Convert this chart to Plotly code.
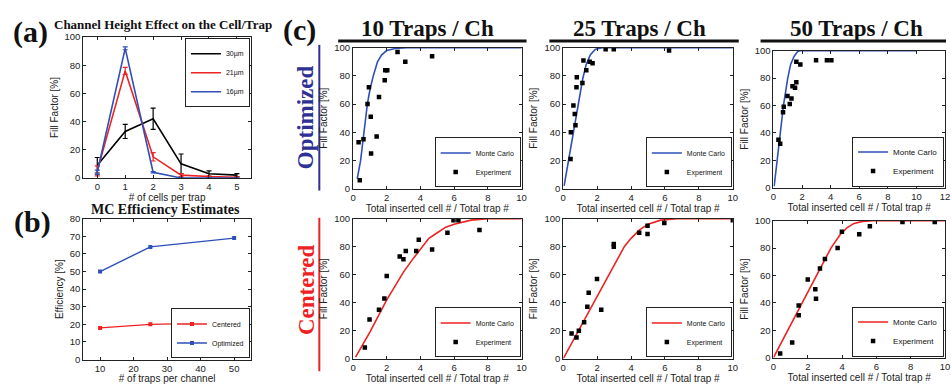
import plotly.graph_objects as go

W, H = 951, 384

# ---------------- data ----------------
# (a) Channel height effect
cells = [0, 1, 2, 3, 4, 5]
fill_30 = [9, 33, 42, 10, 3, 2]
err_30 = [5.5, 5, 7.5, 7, 2, 1]
fill_21 = [5, 76, 15, 2, 1, 0.5]
err_21 = [3.5, 2.5, 3, 1, 0.5, 0.3]
fill_16 = [4, 92, 4, 0, 0, 0]
err_16 = [1.5, 1, 0.5, 0, 0, 0]

# (b) MC efficiency estimates
traps = [10, 25, 50]
eff_centered = [18, 20, 21]
eff_optimized = [50, 64, 69]

# (c) Optimized - Monte Carlo curves
opt10_mc_x = [0.25, 0.45, 0.65, 0.85, 1.0, 1.2, 1.45, 1.7, 2.0, 2.5, 3.2, 10]
opt10_mc_y = [7, 20, 40, 60, 70, 80, 90, 95, 98, 99.5, 100, 100]
opt25_mc_x = [0.05, 0.3, 0.6, 0.9, 1.15, 1.35, 1.6, 1.9, 2.3, 10]
opt25_mc_y = [2, 20, 40, 60, 78, 88, 95, 99, 100, 100]
opt50_mc_x = [0.05, 0.2, 0.45, 0.7, 1.0, 1.2, 1.45, 1.7, 1.85, 10]
opt50_mc_y = [1, 15, 40, 60, 80, 90, 96, 99.5, 100, 100]

# (c) Optimized - experiments
opt10_ex_x = [0.33, 0.4, 0.62, 0.86, 0.94, 1.05, 1.07, 1.4, 1.54, 1.88, 1.91, 2.03, 2.64, 3.1, 4.69]
opt10_ex_y = [33, 6, 35, 60, 72, 51, 25, 37, 65, 77, 84, 84, 97, 90, 94]
opt25_ex_x = [0.43, 0.45, 0.6, 0.68, 0.72, 0.78, 0.8, 1.13, 1.19, 1.36, 1.56, 1.73, 2.5, 2.98, 6.24]
opt25_ex_y = [21, 40, 59, 53, 45, 72, 79, 75, 91, 84, 90, 89, 99, 99, 98]
opt50_ex_x = [0.35, 0.47, 0.67, 0.72, 0.98, 1.14, 1.26, 1.33, 1.51, 1.6, 1.6, 1.88, 2.98, 3.74, 4.05]
opt50_ex_y = [35, 32, 55, 59, 67, 61, 65, 74, 73, 77, 92, 90, 93, 93, 93]

# (c) Centered - Monte Carlo curves
cen10_mc_x = [0.15, 1, 2, 3, 3.6, 4.1, 4.5, 5, 5.5, 6, 7, 8, 10]
cen10_mc_y = [1, 19, 42, 62, 72, 80, 86, 90, 94, 96, 99, 100, 100]
cen25_mc_x = [0, 0.9, 1.75, 2.7, 3.6, 4.0, 4.5, 5, 5.75, 6.7, 10]
cen25_mc_y = [0, 20, 40, 60, 80, 86, 92, 96, 99, 100, 100]
cen50_mc_x = [0, 0.83, 1.67, 2.52, 3.35, 3.9, 4.3, 4.7, 5.2, 5.8, 10]
cen50_mc_y = [0, 20, 40, 60, 80, 90, 95, 98, 99.5, 100, 100]

# (c) Centered - experiments
cen10_ex_x = [0.7, 0.98, 1.54, 1.86, 2.0, 2.77, 2.99, 3.13, 3.75, 3.9, 4.69, 5.6, 5.96, 6.25, 7.5]
cen10_ex_y = [8, 28, 35, 43, 59, 73, 71, 77, 77, 85, 78, 90, 99, 99, 92]
cen25_ex_x = [0.49, 0.78, 0.92, 1.23, 1.42, 1.5, 1.99, 2.24, 2.98, 2.98, 4.48, 4.97, 4.97, 5.96, 10]
cen25_ex_y = [18, 15, 20, 26, 37, 47, 57, 35, 80, 82, 90, 95, 89, 97, 99]
cen50_ex_x = [0.39, 1.09, 1.47, 1.47, 2.0, 2.44, 2.48, 2.71, 3.0, 3.74, 3.99, 5.0, 5.62, 7.52, 9.4]
cen50_ex_y = [3, 11, 38, 31, 57, 50, 43, 65, 72, 80, 92, 90, 96, 99, 99]

column_titles = ["10 Traps / Ch", "25 Traps / Ch", "50 Traps / Ch"]

# ---------------- style ----------------
BLUE = "#2f4fb8"
RED = "#ee2222"
NAVY = "#2e3192"
SANS = "Liberation Sans, Arial, sans-serif"
SERIF = "Liberation Serif, Times New Roman, serif"


def px_x(a, b):
    return [a / W, b / W]


def px_y(top, bottom):
    return [1 - bottom / H, 1 - top / H]


fig = go.Figure()

# ---- (a)
for ys, es, col, nm in [(fill_30, err_30, "black", "30\u00b5m"),
                        (fill_21, err_21, RED, "21\u00b5m"),
                        (fill_16, err_16, BLUE, "16\u00b5m")]:
    fig.add_trace(go.Scatter(
        x=cells, y=ys, mode="lines", name=nm, xaxis="x", yaxis="y",
        line=dict(color=col, width=1.6),
        error_y=dict(type="data", array=es, color=col, thickness=1.2, width=2.5),
        legend="legend"))

# ---- (b)
fig.add_trace(go.Scatter(x=traps, y=eff_centered, mode="lines+markers", name="Centered",
                         xaxis="x2", yaxis="y2", line=dict(color=RED, width=1.4),
                         marker=dict(symbol="square", size=4, color=RED), legend="legend2"))
fig.add_trace(go.Scatter(x=traps, y=eff_optimized, mode="lines+markers", name="Optimized",
                         xaxis="x2", yaxis="y2", line=dict(color=BLUE, width=1.4),
                         marker=dict(symbol="square", size=4, color=BLUE), legend="legend2"))

# ---- (c)
panels = [
    (opt10_mc_x, opt10_mc_y, opt10_ex_x, opt10_ex_y, BLUE),
    (opt25_mc_x, opt25_mc_y, opt25_ex_x, opt25_ex_y, BLUE),
    (opt50_mc_x, opt50_mc_y, opt50_ex_x, opt50_ex_y, BLUE),
    (cen10_mc_x, cen10_mc_y, cen10_ex_x, cen10_ex_y, RED),
    (cen25_mc_x, cen25_mc_y, cen25_ex_x, cen25_ex_y, RED),
    (cen50_mc_x, cen50_mc_y, cen50_ex_x, cen50_ex_y, RED),
]
for i, (mx, my, ex, ey, col) in enumerate(panels):
    k = i + 3
    lg = "legend%d" % k
    fig.add_trace(go.Scatter(x=mx, y=my, mode="lines", name="Monte Carlo",
                             xaxis="x%d" % k, yaxis="y%d" % k,
                             line=dict(color=col, width=1.6), legend=lg))
    fig.add_trace(go.Scatter(x=ex, y=ey, mode="markers", name="Experiment",
                             xaxis="x%d" % k, yaxis="y%d" % k,
                             marker=dict(symbol="square", size=4.5, color="black"), legend=lg))

axis_common = dict(showline=True, linecolor="#222", linewidth=1, mirror="ticks",
                   ticks="inside", ticklen=3, tickcolor="#222", showgrid=False,
                   zeroline=False, tickfont=dict(family=SANS, size=9.5, color="#222"))

layout = dict(
    width=W, height=H, margin=dict(l=0, r=0, t=0, b=0),
    paper_bgcolor="white", plot_bgcolor="white", showlegend=True,
)

# (a)
layout["xaxis"] = dict(axis_common, domain=px_x(81, 250), anchor="y", range=[-0.5, 5.5],
                       tickvals=[0, 1, 2, 3, 4, 5],
                       title=dict(text="# of cells per trap", font=dict(family=SANS, size=10, color="#222"), standoff=2))
layout["yaxis"] = dict(axis_common, domain=px_y(32, 177), anchor="x", range=[0, 100],
                       tickvals=[0, 20, 40, 60, 80, 100],
                       title=dict(text="Fill Factor [%]", font=dict(family=SANS, size=10, color="#222"), standoff=4))
# (b)
layout["xaxis2"] = dict(axis_common, domain=px_x(81, 250), anchor="y2", range=[5, 55],
                        tickvals=[10, 20, 30, 40, 50],
                        title=dict(text="# of traps per channel", font=dict(family=SANS, size=10, color="#222"), standoff=2))
layout["yaxis2"] = dict(axis_common, domain=px_y(219, 364), anchor="x2", range=[0, 80],
                        tickvals=[0, 10, 20, 30, 40, 50, 60, 70, 80],
                        title=dict(text="Efficiency [%]", font=dict(family=SANS, size=10, color="#222"), standoff=4))

cols = [(353, 523), (565, 736), (777, 950)]
rows = [[(43, 188), (43, 188), (46, 187)], [(219, 363), (219, 363), (221, 362)]]
xranges = [[10, 10, 12], [10, 10, 10]]
k = 3
for r in range(2):
    for c in range(3):
        xmax = xranges[r][c]
        layout["xaxis%d" % k] = dict(axis_common, domain=px_x(*cols[c]), anchor="y%d" % k,
                                     range=[0, xmax], tickvals=list(range(0, xmax + 1, 2)),
                                     title=dict(text="Total inserted cell # / Total trap #",
                                                font=dict(family=SANS, size=10, color="#222"), standoff=1))
        layout["yaxis%d" % k] = dict(axis_common, domain=px_y(*rows[r][c]), anchor="x%d" % k,
                                     range=[0, 100], tickvals=[0, 20, 40, 60, 80, 100],
                                     title=dict(text="Fill Factor [%]", font=dict(family=SANS, size=10, color="#222"), standoff=4))
        fs = 8 if c == 2 else 7
        layout["legend%d" % k] = dict(x=cols[c][1] / W - 0.001, y=1 - rows[r][c][1] / H + 0.003,
                                      xanchor="right", yanchor="bottom", xref="paper", yref="paper",
                                      bgcolor="white", bordercolor="#222", borderwidth=1,
                                      font=dict(family=SANS, size=fs, color="#111"),
                                      itemwidth=30, tracegroupgap=0)
        k += 1

layout["legend"] = dict(x=250 / W - 0.001, y=1 - 32 / H - 0.003, xanchor="right", yanchor="top",
                        bgcolor="white", bordercolor="#222", borderwidth=1,
                        font=dict(family=SANS, size=7, color="#111"), itemwidth=30, tracegroupgap=0)
layout["legend2"] = dict(x=250 / W - 0.001, y=1 - 364 / H + 0.003, xanchor="right", yanchor="bottom",
                         bgcolor="white", bordercolor="#222", borderwidth=1,
                         font=dict(family=SANS, size=7, color="#111"), itemwidth=30, tracegroupgap=0)

annotations = []


def ann(text, x, y, size, color="#111", family=SERIF, angle=0, bold=True):
    annotations.append(dict(text=("<b>%s</b>" % text) if bold else text, x=x / W, y=1 - y / H,
                            xref="paper", yref="paper", showarrow=False, textangle=angle,
                            font=dict(family=family, size=size, color=color),
                            xanchor="center", yanchor="middle", borderpad=0))


ann("(a)", 28, 27, 30)
ann("Channel Height Effect on the Cell/Trap", 161, 19, 13)
ann("(b)", 30, 222, 30)
ann("MC Efficiency Estimates", 164, 210, 14)
ann("(c)", 299, 25, 30)
ann("Optimized", 305, 114, 23, color=NAVY, angle=-90)
ann("Centered", 306, 292, 23, color=RED, angle=-90)
centers = [428, 642, 861]
for t, cx in zip(column_titles, centers):
    ann(t, cx, 23, 23)
layout["annotations"] = annotations

shapes = []
for (a, b) in [(338, 528), (551, 742), (764, 951)]:
    shapes.append(dict(type="line", xref="paper", yref="paper", x0=a / W, x1=b / W,
                       y0=1 - 36 / H, y1=1 - 36 / H, line=dict(color="#111", width=3)))
shapes.append(dict(type="line", xref="paper", yref="paper", x0=319 / W, x1=319 / W,
                   y0=1 - 40 / H, y1=1 - 190 / H, line=dict(color=NAVY, width=2)))
shapes.append(dict(type="line", xref="paper", yref="paper", x0=319 / W, x1=319 / W,
                   y0=1 - 218 / H, y1=1 - 376 / H, line=dict(color=RED, width=2)))
layout["shapes"] = shapes

fig.update_layout(**layout)
fig.write_html("out.html", config={"displayModeBar": False},
               post_script="document.body.style.margin='0px';document.body.style.overflow='hidden';")
